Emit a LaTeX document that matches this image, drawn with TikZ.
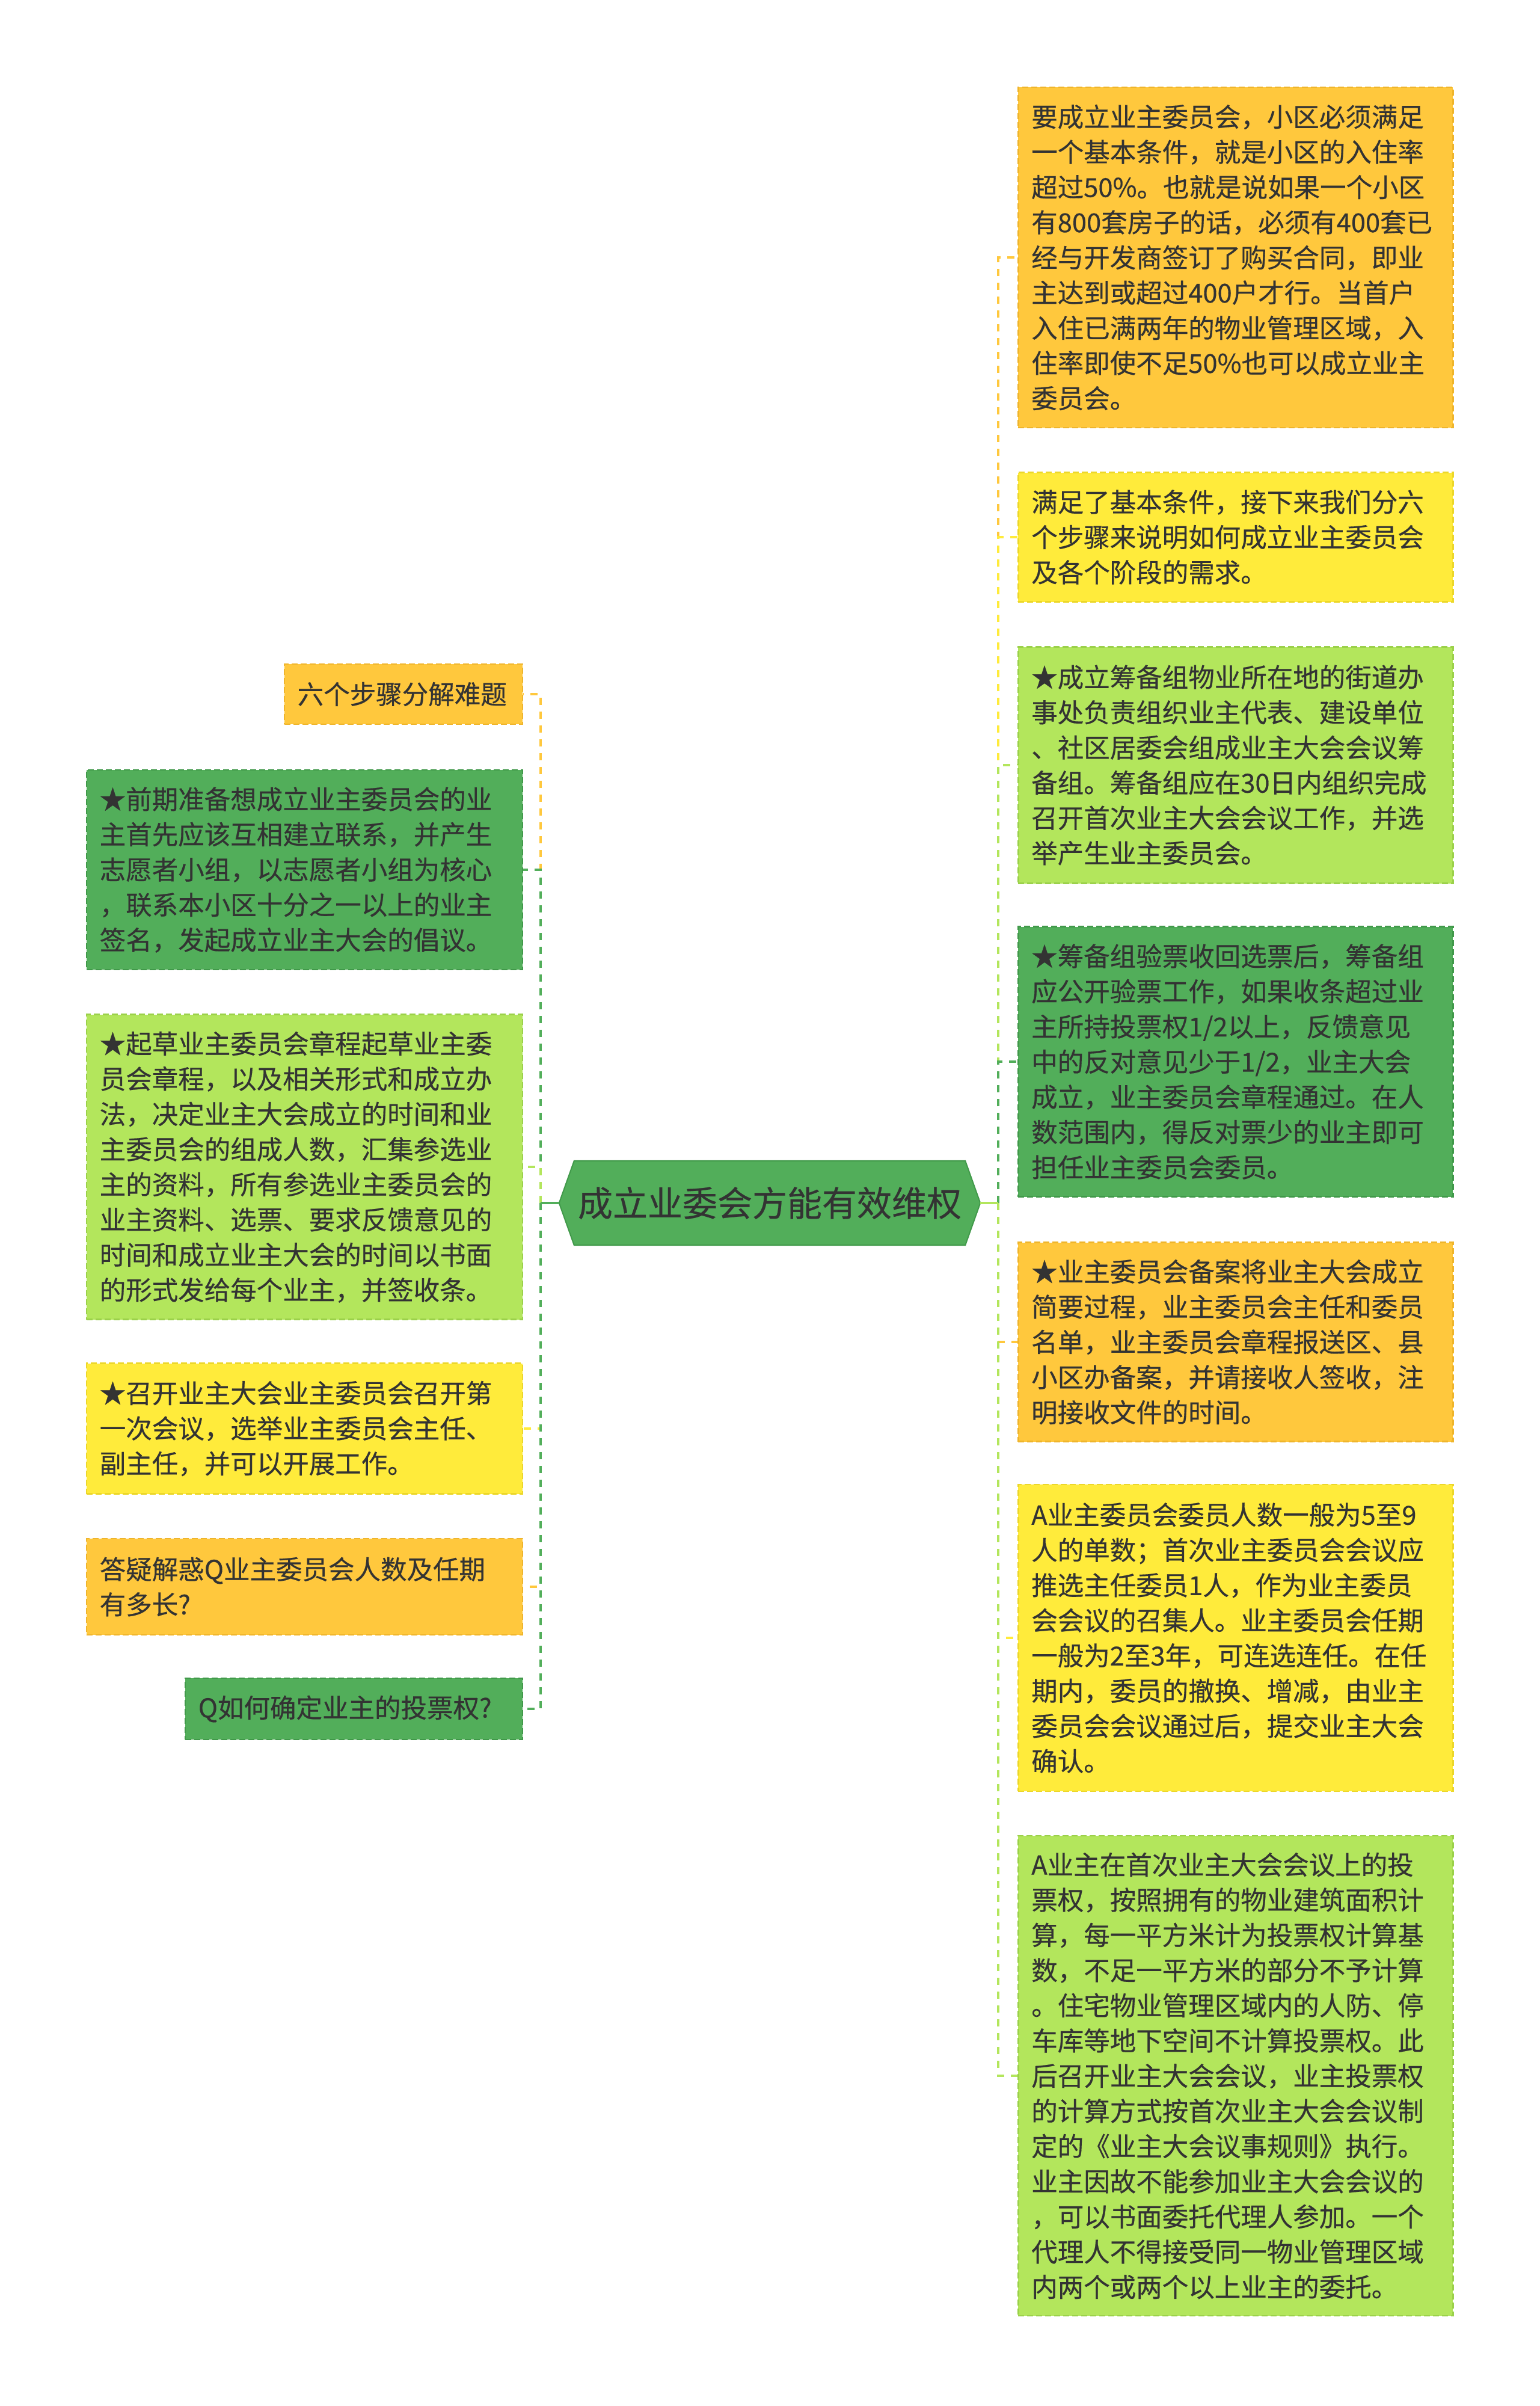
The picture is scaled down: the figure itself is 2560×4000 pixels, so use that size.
\documentclass[tikz,border=0pt]{standalone}
\usepackage{fontspec}
\setmainfont{Noto Sans CJK SC}[FakeBold=0.4]
\usetikzlibrary{backgrounds}
\definecolor{cOr}{HTML}{FFC83D}
\definecolor{cOrD}{HTML}{EFB52C}
\definecolor{cYe}{HTML}{FFEB3B}
\definecolor{cYeD}{HTML}{ECD72A}
\definecolor{cLg}{HTML}{B3E65C}
\definecolor{cLgD}{HTML}{9BD14A}
\definecolor{cGr}{HTML}{52AE5A}
\definecolor{cGrD}{HTML}{41994A}
\definecolor{cTx}{HTML}{333333}
\begin{document}
\begin{tikzpicture}[x=1pt,y=-1pt,
  box/.style={rectangle, draw=#1D, fill=#1, dash pattern=on 10pt off 5pt,
    line width=2.5pt, text=cTx, align=left, inner xsep=22pt, inner ysep=0pt,
    font=\fontsize{43.5}{58.5}\selectfont},
  rbox/.style={box=#1, anchor=west, text width=679pt},
  lbox/.style={box=#1, anchor=east, text width=681pt},
  conn/.style={draw=#1, line width=4.5pt, dash pattern=on 12pt off 11pt},
  stub/.style={draw=#1, line width=4.5pt},
  rootnode/.style={rectangle, minimum width=700pt, minimum height=140pt,
    inner sep=0pt, text=cTx, font=\fontsize{58}{70}\selectfont}
]
\useasboundingbox (0,0) rectangle (2560,4000);
\begin{scope}[on background layer]
\fill[white] (0,0) rectangle (2560,4000);
\end{scope}

% root
\node[rootnode] (root) at (1280,2000) {成立业委会方能有效维权};
\begin{scope}[on background layer]
\filldraw[fill=cGr, draw=cGrD, line width=2pt]
  (root.west) -- ([xshift=25pt]root.north west) -- ([xshift=-25pt]root.north east)
  -- (root.east) -- ([xshift=-25pt]root.south east) -- ([xshift=25pt]root.south west) -- cycle;
\end{scope}

\coordinate (sL) at (899,2000);
\coordinate (sR) at (1660,2000);

% right column
\node[rbox=cOr, minimum height=566pt] (R1) at (1692,428) {要成立业主委员会，小区必须满足\\一个基本条件，就是小区的入住率\\超过50\%。也就是说如果一个小区\\有800套房子的话，必须有400套已\\经与开发商签订了购买合同，即业\\主达到或超过400户才行。当首户\\入住已满两年的物业管理区域，入\\住率即使不足50\%也可以成立业主\\委员会。};
\node[rbox=cYe, minimum height=215pt] (R2) at (1692,893) {满足了基本条件，接下来我们分六\\个步骤来说明如何成立业主委员会\\及各个阶段的需求。};
\node[rbox=cLg, minimum height=393pt] (R3) at (1692,1272) {★成立筹备组物业所在地的街道办\\事处负责组织业主代表、建设单位\\、社区居委会组成业主大会会议筹\\备组。筹备组应在30日内组织完成\\召开首次业主大会会议工作，并选\\举产生业主委员会。};
\node[rbox=cGr, minimum height=449pt] (R4) at (1692,1765) {★筹备组验票收回选票后，筹备组\\应公开验票工作，如果收条超过业\\主所持投票权1/2以上，反馈意见\\中的反对意见少于1/2，业主大会\\成立，业主委员会章程通过。在人\\数范围内，得反对票少的业主即可\\担任业主委员会委员。};
\node[rbox=cOr, minimum height=331pt] (R5) at (1692,2231) {★业主委员会备案将业主大会成立\\简要过程，业主委员会主任和委员\\名单，业主委员会章程报送区、县\\小区办备案，并请接收人签收，注\\明接收文件的时间。};
\node[rbox=cYe, minimum height=510pt] (R6) at (1692,2723) {A业主委员会委员人数一般为5至9\\人的单数；首次业主委员会会议应\\推选主任委员1人，作为业主委员\\会会议的召集人。业主委员会任期\\一般为2至3年，可连选连任。在任\\期内，委员的撤换、增减，由业主\\委员会会议通过后，提交业主大会\\确认。};
\node[rbox=cLg, minimum height=798pt] (R7) at (1692,3451) {A业主在首次业主大会会议上的投\\票权，按照拥有的物业建筑面积计\\算，每一平方米计为投票权计算基\\数，不足一平方米的部分不予计算\\。住宅物业管理区域内的人防、停\\车库等地下空间不计算投票权。此\\后召开业主大会会议，业主投票权\\的计算方式按首次业主大会会议制\\定的《业主大会议事规则》执行。\\业主因故不能参加业主大会会议的\\，可以书面委托代理人参加。一个\\代理人不得接受同一物业管理区域\\内两个或两个以上业主的委托。};

% left column
\node[box=cOr, anchor=east, text width=352pt, minimum height=100pt] (L1) at (870,1154) {六个步骤分解难题};
\node[lbox=cGr, minimum height=332pt] (L2) at (870,1446) {★前期准备想成立业主委员会的业\\主首先应该互相建立联系，并产生\\志愿者小组，以志愿者小组为核心\\，联系本小区十分之一以上的业主\\签名，发起成立业主大会的倡议。};
\node[lbox=cLg, minimum height=507pt] (L3) at (870,1940) {★起草业主委员会章程起草业主委\\员会章程，以及相关形式和成立办\\法，决定业主大会成立的时间和业\\主委员会的组成人数，汇集参选业\\主的资料，所有参选业主委员会的\\业主资料、选票、要求反馈意见的\\时间和成立业主大会的时间以书面\\的形式发给每个业主，并签收条。};
\node[lbox=cYe, minimum height=217pt] (L4) at (870,2375) {★召开业主大会业主委员会召开第\\一次会议，选举业主委员会主任、\\副主任，并可以开展工作。};
\node[lbox=cOr, minimum height=160pt] (L5) at (870,2638) {答疑解惑Q业主委员会人数及任期\\有多长?};
\node[box=cGr, anchor=east, text width=517pt, minimum height=102pt] (L6) at (870,2841) {Q如何确定业主的投票权?};

% connectors
\begin{scope}[on background layer]
\draw[conn=cOr] (sL) |- (L1.east);
\draw[conn=cGr] (sL) |- (L2.east);
\draw[conn=cLg] (sL) |- (L3.east);
\draw[conn=cYe] (sL) |- (L4.east);
\draw[conn=cOr] (sL) |- (L5.east);
\draw[conn=cGr] (sL) |- (L6.east);
\draw[stub=cGr] (root.west) -- (sL);
\draw[conn=cOr] (sR) |- (R1.west);
\draw[conn=cYe] (sR) |- (R2.west);
\draw[conn=cLg] (sR) |- (R3.west);
\draw[conn=cGr] (sR) |- (R4.west);
\draw[conn=cOr] (sR) |- (R5.west);
\draw[conn=cYe] (sR) |- (R6.west);
\draw[conn=cLg] (sR) |- (R7.west);
\draw[stub=cLg] (root.east) -- (sR);
\end{scope}
\end{tikzpicture}
\end{document}
